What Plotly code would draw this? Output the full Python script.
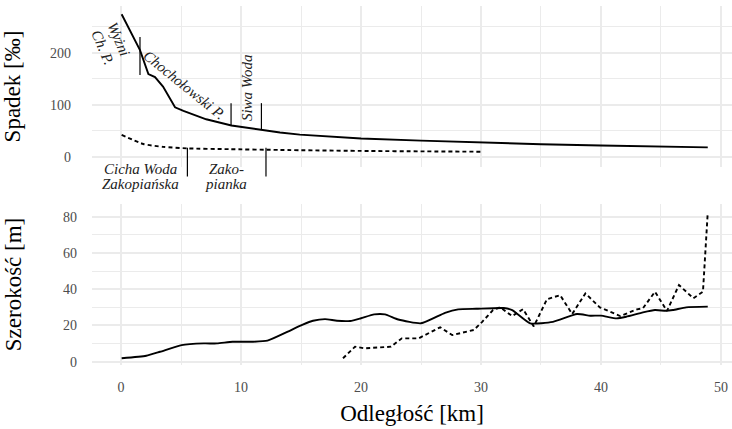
import plotly.graph_objects as go

# --- gradient (Spadek, ‰) along the river, km from the source ---
slope_main_km = [0.05, 1.58, 2.28, 2.83, 3.5, 4.5, 5.2, 7.1, 9.2, 11.6, 13.25, 14.9,
                 17.0, 20.0, 25.0, 30.0, 35.0, 40.0, 45.0, 48.9]
slope_main = [274, 205, 159, 153, 135, 95, 88, 72, 60, 52, 46.5, 42.5,
              39, 35, 31, 27, 24, 21.5, 20, 18]

slope_second_km = [0.05, 1.86, 3.5, 5.5, 9.0, 13.25, 20.7, 25.0, 30.2]
slope_second = [42, 24.4, 19, 16, 14.5, 13, 11, 10.3, 9.6]

# --- channel width (Szerokość, m) ---
width_main_km = [0.05, 2.1, 3.25, 5.05, 6.9, 8.0, 9.3, 11.0, 12.2, 13.9, 15.1, 16.0, 17.0,
                 18.0, 19.1, 20.0, 21.1, 22.0, 23.1, 25.0, 27.0, 28.1, 29.6, 31.9, 32.6,
                 34.1, 36.0, 38.0, 39.1, 40.0, 41.3, 42.1, 43.5, 44.5, 45.4, 46.0, 47.1, 48.9]
width_main = [1.9, 3.3, 5.5, 9.2, 10.1, 10.1, 11.0, 11.0, 11.6, 16.6, 20.3, 22.6, 23.5,
              22.6, 22.5, 24.0, 26.1, 26.1, 23.3, 21.2, 27.0, 28.9, 29.2, 29.6, 28.5,
              21.2, 22.0, 26.3, 25.4, 25.4, 23.9, 24.8, 27.2, 28.5, 28.1, 28.5, 30.0, 30.4]

width_second_km = [18.5, 19.5, 20.3, 22.5, 23.4, 24.8, 26.6, 27.6, 29.4, 30.1, 31.0, 31.6,
                   32.6, 33.5, 34.4, 35.5, 36.6, 37.6, 38.7, 39.9, 41.6, 43.0, 43.5, 44.5,
                   45.5, 46.5, 47.7, 48.5, 48.9]
width_second = [1.9, 8.3, 7.4, 8.3, 12.9, 12.9, 19.0, 14.7, 17.5, 22.0, 28.5, 30.0,
                25.2, 29.0, 19.5, 34.5, 36.7, 26.3, 37.7, 30.0, 25.2, 28.9, 29.5, 38.6,
                28.0, 42.3, 35.0, 38.6, 82.4]

x_ticks = [0, 10, 20, 30, 40, 50]
slope_ticks = [0, 100, 200]
width_ticks = [0, 20, 40, 60, 80]

# confluence markers: km, segment from/to (‰)
markers = [
    (1.58, 230, 157),
    (9.17, 103, 60),
    (11.7, 103, 52),
    (5.53, 17, -38),
    (12.08, 17, -38),
]

# labels: text, km, value (‰), angle
labels = [
    ("Wyżni", -0.21, 226, 67),
    ("Ch. P.", -1.54, 211, 67),
    ("Chochołowski P.", 5.25, 137, 39),
    ("Siwa Woda", 10.46, 133, -90),
    ("Cicha Woda", 1.63, -24, 0),
    ("Zakopiańska", 1.6, -53, 0),
    ("Zako-", 8.75, -24, 0),
    ("pianka", 8.75, -53, 0),
]

X_RANGE = [-2.42, 50.92]
TOP_RANGE = [-19.8, 289.8]
BOT_RANGE = [-1.8, 87.0]
TOP_DOM = [0.5515, 1.0]
BOT_DOM = [0.0, 0.4485]

SERIF = "Liberation Serif"
GRID = "#ebebeb"
TICK_COL = "#4d4d4d"


def top_paper(v):
    return TOP_DOM[0] + (v - TOP_RANGE[0]) / (TOP_RANGE[1] - TOP_RANGE[0]) * (TOP_DOM[1] - TOP_DOM[0])


fig = go.Figure()

line_solid = dict(color="black", width=1.9)
line_solid_smooth = dict(color="black", width=1.9, shape="spline", smoothing=0.5)
line_dash = dict(color="black", width=1.9, dash="4px,3px")
line_dash_smooth = dict(color="black", width=1.9, dash="4px,3px", shape="spline", smoothing=0.6)

fig.add_trace(go.Scatter(x=slope_main_km, y=slope_main, mode="lines", line=line_solid,
                         xaxis="x2", yaxis="y2", showlegend=False, hoverinfo="skip"))
fig.add_trace(go.Scatter(x=slope_second_km, y=slope_second, mode="lines", line=line_dash_smooth,
                         xaxis="x2", yaxis="y2", showlegend=False, hoverinfo="skip"))
fig.add_trace(go.Scatter(x=width_main_km, y=width_main, mode="lines", line=line_solid_smooth,
                         xaxis="x", yaxis="y", showlegend=False, hoverinfo="skip"))
fig.add_trace(go.Scatter(x=width_second_km, y=width_second, mode="lines", line=line_dash,
                         xaxis="x", yaxis="y", showlegend=False, hoverinfo="skip"))

for km, y0, y1 in markers:
    fig.add_shape(type="line", xref="x2", yref="paper", x0=km, x1=km,
                  y0=top_paper(y0), y1=top_paper(y1),
                  line=dict(color="black", width=1.2), layer="above")

for text, km, v, ang in labels:
    fig.add_annotation(text=text, xref="x2", yref="paper", x=km, y=top_paper(v),
                       textangle=ang, showarrow=False, xanchor="center", yanchor="middle",
                       font=dict(family=SERIF, size=15, color="#222222", style="italic"))

axis_common = dict(showgrid=True, gridcolor=GRID, gridwidth=1.6, zeroline=False,
                   showline=False, ticks="",
                   tickfont=dict(family=SERIF, size=14, color=TICK_COL))

fig.update_layout(
    width=732, height=429,
    margin=dict(l=92, r=0, t=6, b=64),
    paper_bgcolor="white", plot_bgcolor="white",
    xaxis=dict(domain=[0, 1], range=X_RANGE, anchor="y", tickvals=x_ticks,
               minor=dict(dtick=5, showgrid=True, gridcolor=GRID, gridwidth=1.0),
               ticklabelstandoff=12,
               title=dict(text="Odległość [km]", standoff=10,
                          font=dict(family=SERIF, size=23, color="black")),
               **axis_common),
    xaxis2=dict(domain=[0, 1], range=X_RANGE, anchor="y2", matches="x",
                tickvals=x_ticks, showticklabels=False,
                minor=dict(dtick=5, showgrid=True, gridcolor=GRID, gridwidth=1.0),
                **axis_common),
    yaxis=dict(domain=BOT_DOM, range=BOT_RANGE, anchor="x", tickvals=width_ticks,
               minor=dict(dtick=10, showgrid=True, gridcolor=GRID, gridwidth=1.0),
               ticklabelstandoff=14,
               title=dict(text="Szerokość [m]", standoff=34,
                          font=dict(family=SERIF, size=23, color="black")),
               **axis_common),
    yaxis2=dict(domain=TOP_DOM, range=TOP_RANGE, anchor="x2", tickvals=slope_ticks,
                minor=dict(dtick=50, showgrid=True, gridcolor=GRID, gridwidth=1.0),
                ticklabelstandoff=20,
                title=dict(text="Spadek [‰]", standoff=26,
                           font=dict(family=SERIF, size=23, color="black")),
                **axis_common),
)

fig.write_html("out.html")
